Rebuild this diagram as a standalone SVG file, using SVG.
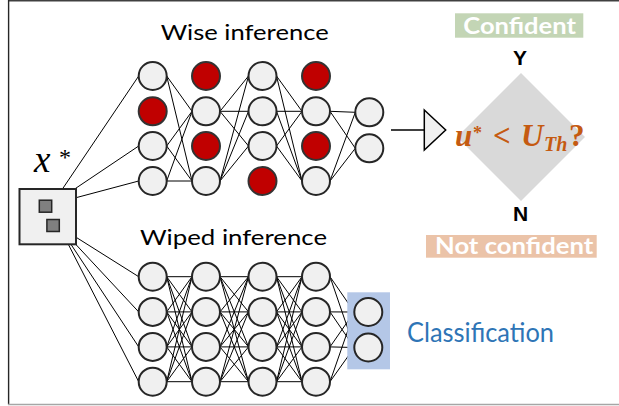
<svg xmlns="http://www.w3.org/2000/svg" width="619" height="406" viewBox="0 0 619 406">
<style>
.n{fill:#F0F0F0;stroke:#262626;stroke-width:2}
.r{fill:#C00000;stroke:#333;stroke-width:2}
.c{fill:none;stroke:#000;stroke-width:1}
.t{font-family:Lato,"Open Sans",sans-serif;fill:#000}
.b{font-family:Lato,"Open Sans",sans-serif;font-weight:bold;fill:#fff}
.m{font-family:"Liberation Serif","DejaVu Serif",serif;font-weight:bold;font-style:italic;fill:#C55A11}
</style>
<rect width="619" height="406" fill="#fff"/>
<g id="frame" fill="none">
<line x1="8" y1="0.7" x2="619" y2="0.7" stroke="#404040" stroke-width="1.4"/>
<line x1="8.6" y1="0" x2="8.6" y2="404.5" stroke="#262626" stroke-width="1.4"/>
<line x1="8" y1="404.5" x2="619" y2="404.5" stroke="#A6A6A6" stroke-width="1.4"/>
</g>
<g id="connectors" class="c">
<path d="M52.3 204L138.7 76M52.3 204L138.7 146M52.3 204L138.7 181
M166.7 76L192 111.3M166.7 76L192 181M166.7 146L192 111.3M166.7 146L192 181M166.7 181L192 111.3M166.7 181L192 181
M220 111.3L248.5 76M220 111.3L248.5 111.3M220 111.3L248.5 146M220 181L248.5 76M220 181L248.5 111.3M220 181L248.5 146
M276.5 76L302 111.3M276.5 76L302 181M276.5 111.3L302 111.3M276.5 111.3L302 181M276.5 146L302 111.3M276.5 146L302 181
M330 111.3L355.3 112.3M330 111.3L355.3 148.3M330 181L355.3 112.3M330 181L355.3 148.3"/>
<path d="M59.3 226.7L138.7 276.7M59.3 226.7L138.7 311.9M59.3 226.7L138.7 346.9M59.3 226.7L138.7 381.7
M166.7 276.7L192 276.7M166.7 276.7L192 311.9M166.7 276.7L192 346.9M166.7 276.7L192 381.7
M166.7 311.9L192 276.7M166.7 311.9L192 311.9M166.7 311.9L192 346.9M166.7 311.9L192 381.7
M166.7 346.9L192 276.7M166.7 346.9L192 311.9M166.7 346.9L192 346.9M166.7 346.9L192 381.7
M166.7 381.7L192 276.7M166.7 381.7L192 311.9M166.7 381.7L192 346.9M166.7 381.7L192 381.7
M220 276.7L248.5 276.7M220 276.7L248.5 311.9M220 276.7L248.5 346.9M220 276.7L248.5 381.7
M220 311.9L248.5 276.7M220 311.9L248.5 311.9M220 311.9L248.5 346.9M220 311.9L248.5 381.7
M220 346.9L248.5 276.7M220 346.9L248.5 311.9M220 346.9L248.5 346.9M220 346.9L248.5 381.7
M220 381.7L248.5 276.7M220 381.7L248.5 311.9M220 381.7L248.5 346.9M220 381.7L248.5 381.7
M276.5 276.7L302 276.7M276.5 276.7L302 311.9M276.5 276.7L302 346.9M276.5 276.7L302 381.7
M276.5 311.9L302 276.7M276.5 311.9L302 311.9M276.5 311.9L302 346.9M276.5 311.9L302 381.7
M276.5 346.9L302 276.7M276.5 346.9L302 311.9M276.5 346.9L302 346.9M276.5 346.9L302 381.7
M276.5 381.7L302 276.7M276.5 381.7L302 311.9M276.5 381.7L302 346.9M276.5 381.7L302 381.7"/>
<path d="M330 276.7L354.3 312M330 276.7L354.3 347.5M330 311.9L354.3 312M330 311.9L354.3 347.5M330 346.9L354.3 312M330 346.9L354.3 347.5M330 381.7L354.3 312M330 381.7L354.3 347.5"/>
<line x1="391" y1="130" x2="424.3" y2="130" stroke-width="1.6"/>
</g>
<g id="input">
<rect x="19.5" y="189" width="56.5" height="55.3" fill="#F0F0F0" stroke="#262626" stroke-width="2"/>
<rect x="39.3" y="200.2" width="12.4" height="12" fill="#808080" stroke="#262626" stroke-width="1.5"/>
<rect x="46.9" y="219.5" width="12.4" height="12" fill="#808080" stroke="#262626" stroke-width="1.5"/>
<text x="34" y="172" font-family="'Liberation Serif',serif" font-style="italic" font-size="37" fill="#000">x</text>
<text x="59" y="165" font-family="'Liberation Serif',serif" font-size="24" fill="#000">*</text>
</g>
<g id="wise-label"><text class="t" x="160.7" y="40" font-size="22" textLength="168" lengthAdjust="spacingAndGlyphs">Wise inference</text></g>
<g id="wiped-label"><text class="t" x="140" y="245" font-size="22" textLength="187" lengthAdjust="spacingAndGlyphs">Wiped inference</text></g>
<g id="wise-net">
<circle class="n" cx="152.7" cy="76" r="14"/><circle class="r" cx="152.7" cy="111.3" r="14"/><circle class="n" cx="152.7" cy="146" r="14"/><circle class="n" cx="152.7" cy="181" r="14"/>
<circle class="r" cx="206" cy="76" r="14"/><circle class="n" cx="206" cy="111.3" r="14"/><circle class="r" cx="206" cy="146" r="14"/><circle class="n" cx="206" cy="181" r="14"/>
<circle class="n" cx="262.5" cy="76" r="14"/><circle class="n" cx="262.5" cy="111.3" r="14"/><circle class="n" cx="262.5" cy="146" r="14"/><circle class="r" cx="262.5" cy="181" r="14"/>
<circle class="r" cx="316" cy="76" r="14"/><circle class="n" cx="316" cy="111.3" r="14"/><circle class="r" cx="316" cy="146" r="14"/><circle class="n" cx="316" cy="181" r="14"/>
<circle class="n" cx="369.3" cy="112.3" r="14"/><circle class="n" cx="369.3" cy="148.3" r="14"/>
</g>
<g id="wiped-net">
<rect x="347.3" y="292.3" width="42.7" height="77" fill="#B4C7E7"/>
<circle class="n" cx="152.7" cy="276.7" r="14"/><circle class="n" cx="152.7" cy="311.9" r="14"/><circle class="n" cx="152.7" cy="346.9" r="14"/><circle class="n" cx="152.7" cy="381.7" r="14"/>
<circle class="n" cx="206" cy="276.7" r="14"/><circle class="n" cx="206" cy="311.9" r="14"/><circle class="n" cx="206" cy="346.9" r="14"/><circle class="n" cx="206" cy="381.7" r="14"/>
<circle class="n" cx="262.5" cy="276.7" r="14"/><circle class="n" cx="262.5" cy="311.9" r="14"/><circle class="n" cx="262.5" cy="346.9" r="14"/><circle class="n" cx="262.5" cy="381.7" r="14"/>
<circle class="n" cx="316" cy="276.7" r="14"/><circle class="n" cx="316" cy="311.9" r="14"/><circle class="n" cx="316" cy="346.9" r="14"/><circle class="n" cx="316" cy="381.7" r="14"/>
<circle class="n" cx="368.3" cy="312" r="14"/><circle class="n" cx="368.3" cy="347.5" r="14"/>
</g>
<g id="classification"><text x="407" y="341.7" font-family="Lato,'Open Sans',sans-serif" font-size="26" fill="#2E75B6" textLength="147" lengthAdjust="spacingAndGlyphs">Classification</text></g>
<g id="arrow-head"><path d="M424.3 110L445.7 130L424.3 150Z" fill="#F0F0F0" stroke="#000" stroke-width="1.5"/></g>
<g id="decision">
<path d="M521 73L585 137L521 201L457 137Z" fill="#D9D9D9"/>
<text class="m" font-size="31"><tspan x="455" y="145.7">u</tspan><tspan x="473" y="139" font-size="18" font-style="normal">*</tspan><tspan x="493" y="145.7" font-style="normal">&lt;</tspan><tspan x="521" y="145.7">U</tspan><tspan x="544" y="150.5" font-size="20">Th</tspan><tspan x="569" y="145.7" font-style="normal">?</tspan></text>
</g>
<g id="confident">
<rect x="455" y="13.3" width="128.3" height="24.4" fill="#C3D5B5"/>
<text class="b" x="463.3" y="34.3" font-size="22" textLength="112.7" lengthAdjust="spacingAndGlyphs">Confident</text>
<text x="520" y="65" font-family="'Liberation Sans',Arial,sans-serif" font-weight="bold" font-size="21" text-anchor="middle" fill="#000">Y</text>
</g>
<g id="not-confident">
<rect x="426" y="235" width="170.7" height="22.7" fill="#EBC3A8"/>
<text class="b" x="435" y="254" font-size="22" textLength="158.3" lengthAdjust="spacingAndGlyphs">Not confident</text>
<text x="520.5" y="220.7" font-family="'Liberation Sans',Arial,sans-serif" font-weight="bold" font-size="21" text-anchor="middle" fill="#000">N</text>
</g>
</svg>
